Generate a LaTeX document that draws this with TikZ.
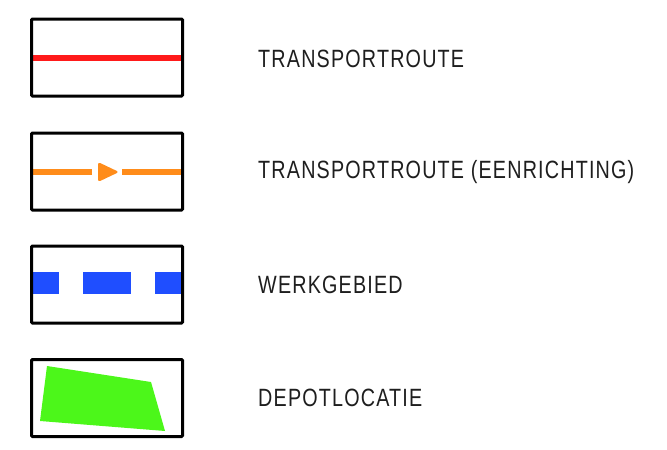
\documentclass[tikz,border=0pt]{standalone}
\usepackage{fontspec}
\setmainfont{Liberation Sans}
\newfontfamily\legfont[LetterSpace=6]{Liberation Sans}
\definecolor{lred}{HTML}{FF1A1A}
\definecolor{lorange}{HTML}{FF8C1A}
\definecolor{lblue}{HTML}{1F4EFF}
\definecolor{lgreen}{HTML}{4CF71A}
\definecolor{ltext}{HTML}{1E1E1E}
\tikzset{
  legbox/.style={draw=black, line width=3pt, rounded corners=1pt, minimum width=151pt, minimum height=77pt, inner sep=0pt},
  legtext/.style={anchor=west, inner sep=0pt, text=ltext, font=\legfont\fontsize{25}{26}\selectfont},
}
\newcommand{\legnarrow}[1]{\scalebox{0.79}[1]{#1}}
\begin{document}
\begin{tikzpicture}[x=1pt,y=-1pt]
\useasboundingbox (0,0) rectangle (667,450);
% fills
\fill[lred] (31,55) rectangle (183,61);
\fill[lorange] (31,169) rectangle (92,175);
\fill[lorange] (122,169) rectangle (183,175);
\fill[lorange, rounded corners=2.5pt] (98,162) -- (119,172) -- (98,182) -- cycle;
\fill[lblue] (32,272) rectangle (59,294);
\fill[lblue] (83,272) rectangle (131,294);
\fill[lblue] (155,272) rectangle (183,294);
\fill[lgreen] (47,366) -- (151,382) -- (165,431) -- (40,421) -- cycle;
% boxes
\node[legbox] (b1) at (107,57.5) {};
\node[legbox] (b2) at (107,171.5) {};
\node[legbox] (b3) at (107,284.5) {};
\node[legbox] (b4) at (107,398) {};
% texts
\node[legtext] (t1) at (258,59) {\legnarrow{TRANSPORTROUTE}};
\node[legtext] (t2) at (258,172) {\legnarrow{TRANSPORTROUTE (EENRICHTING)}};
\node[legtext] (t3) at (258,285) {\legnarrow{WERKGEBIED}};
\node[legtext] (t4) at (258,398) {\legnarrow{DEPOTLOCATIE}};
\end{tikzpicture}
\end{document}
